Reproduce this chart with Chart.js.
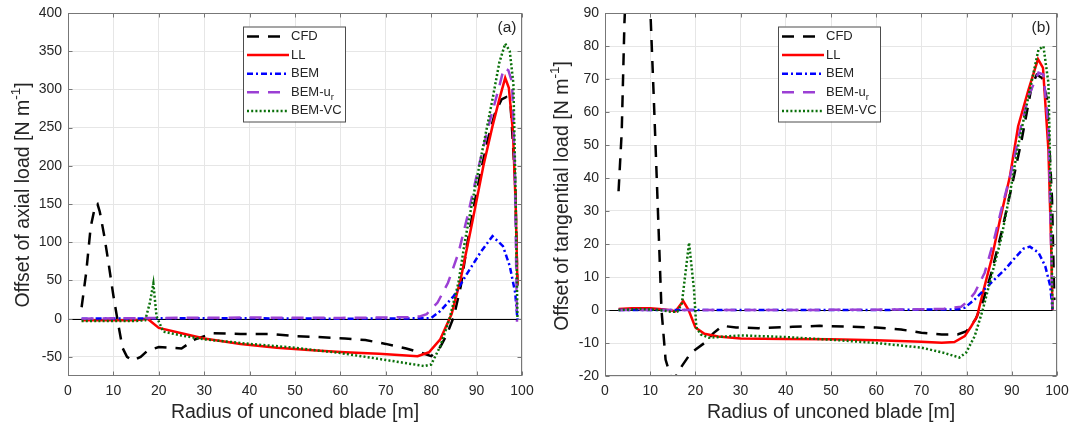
<!DOCTYPE html>
<html>
<head>
<meta charset="utf-8">
<script src="https://cdn.jsdelivr.net/npm/chart.js@4.4.1/dist/chart.umd.min.js"></script>
<style>
  html, body { margin: 0; padding: 0; background: #fff; }
  canvas { position: absolute; top: 0; }
</style>
</head>
<body>
<canvas id="axialChart" width="535" height="428" style="left:0"></canvas>
<canvas id="tangentialChart" width="535" height="428" style="left:535px"></canvas>
<script>
// x ticks shared by both panels
const radiusTicks = [0, 10, 20, 30, 40, 50, 60, 70, 80, 90, 100]
const axialTicks = [-50, 0, 50, 100, 150, 200, 250, 300, 350, 400]
const tangentialTicks = [-20, -10, 0, 10, 20, 30, 40, 50, 60, 70, 80, 90]

// (a) axial load offset
const axialCfdR = [3, 4, 5, 6, 6.5, 7, 8, 9, 10, 11, 12, 13, 14.3, 16, 17.5, 20, 22.5, 25, 28, 32, 38, 45, 50, 55, 61, 65.5, 70, 74.5, 77.5, 80, 82, 83.5, 85, 86.5, 88, 89.5, 91, 92.5, 94, 95.5, 96.5, 97.5, 98.5, 99]
const axialCfdV = [15, 60, 120, 148, 150, 140, 108, 70, 30, -5, -38, -50, -55, -50, -42, -37, -38, -39, -27, -19, -20, -20, -23, -24, -26, -28, -33, -39, -44, -49, -37, -20, 3, 42, 100, 150, 195, 235, 268, 287, 290, 278, 180, 40]
const axialLlR = [3, 6, 10, 14, 16, 17.5, 20, 25, 30, 38, 46, 53, 61, 68.5, 77, 79.5, 82, 84.5, 86.5, 89, 91.5, 93.5, 95, 96.3, 97.1, 98, 98.6, 99]
const axialLlV = [-2, -2, -2, -2, -1.5, 0, -12, -19, -26, -33, -38, -41, -44, -46, -49, -44, -27, 6, 52, 125, 200, 252, 287, 315, 302, 245, 150, 45]
const axialBemR = [3, 20, 40, 60, 79, 80, 82, 85, 88, 91, 93.5, 95.8, 97.3, 98.5, 99]
const axialBemV = [0, 0.5, 0.5, 0, 0.5, 1, 10, 30, 60, 88, 108, 95, 69, 34, -1]
const axialBemUrR = [3, 20, 40, 60, 75, 77.5, 79, 81.4, 83.7, 86, 88.2, 90.5, 92.8, 95, 96, 97, 97.8, 98.4, 98.9]
const axialBemUrV = [0, 1, 1.5, 1, 2, 3, 6, 21, 47, 86, 139, 200, 256, 304, 328, 325, 310, 200, -4]
const axialBemVcR = [3, 10, 15, 17, 18, 18.8, 19.5, 21, 25, 30, 40, 50, 60, 70, 78.5, 80, 82, 84, 86, 87.5, 89.7, 91.6, 93.5, 95, 96.3, 97.3, 98.1, 98.6, 99]
const axialBemVcV = [-3, -3, -3, -2, 20, 46, 3, -17, -22, -27, -33, -38, -45, -54, -62, -60, -36, -1, 47, 104, 173, 230, 287, 335, 360, 350, 308, 160, 0]

// (b) tangential load offset
const tangCfdR = [3, 3.7, 4.3, 5, 6, 7, 8, 9, 10, 10.8, 11.5, 12.5, 13.4, 14.7, 15.5, 17, 19, 22, 24, 26, 29, 34, 41.5, 47.5, 53, 60, 65.5, 70, 74.5, 78, 80, 82, 83.5, 85.5, 87.7, 90, 92.2, 94.4, 95.5, 96.7, 97.8, 98.9, 99.4]
const tangCfdV = [36, 54, 87, 110, 128, 135, 130, 115, 92, 64, 38, 0, -15, -21, -20.5, -17, -13, -10, -7, -4.8, -5.3, -5.5, -5.1, -4.8, -5, -5.3, -5.9, -6.9, -7.4, -7.4, -6.4, -2.8, 2.2, 11.3, 23.4, 37.5, 51.7, 67.8, 71.3, 70.3, 63.8, 33.5, 3]
const tangLlR = [3, 6, 10, 12, 14, 15.6, 17.3, 18.5, 20, 22, 25, 30, 40, 50, 60, 70, 74.5, 77.3, 79.6, 81, 82.3, 83.6, 85.5, 87.4, 89.6, 91.4, 93.7, 95.8, 96.9, 98.1, 98.7, 99]
const tangLlV = [0.3, 0.5, 0.5, 0.3, 0, -0.4, 2.7, 0, -5.3, -7.2, -8, -8.6, -8.8, -8.9, -9.2, -9.6, -9.9, -9.7, -7.9, -5, -2, 5.2, 15.3, 27.4, 40.6, 55.7, 66.8, 76, 73.4, 48.6, 20, 0]
const tangBemR = [3, 20, 40, 60, 78, 79.6, 81.8, 84, 86.2, 88.5, 90.7, 92.6, 94, 95.9, 97.4, 98.5, 99]
const tangBemV = [0, 0, 0, 0, 0.2, 0.7, 3.2, 6.3, 9.3, 12.3, 15.8, 18.6, 19.2, 17.4, 13.3, 7.3, 0.2]
const tangBemUrR = [3, 20, 40, 60, 70, 75, 78.8, 80.3, 81.8, 84, 85.9, 87.7, 90, 91.8, 93.7, 95.9, 97, 98.1, 99]
const tangBemUrV = [0, 0, 0, 0.1, 0.2, 0.4, 1, 2.7, 5.2, 11.3, 20.4, 30.5, 42.6, 54.2, 64.8, 71.9, 71.3, 55.7, 0]
const tangBemVcR = [3, 8, 12, 14.5, 16, 17, 18.6, 19.7, 20.2, 21.2, 23, 30, 40, 50, 60, 70, 75, 78.4, 79.9, 81.8, 83.6, 85.5, 87.7, 89.6, 91.4, 93.7, 95.9, 97, 98.1, 98.7, 99]
const tangBemVcV = [0, 0.3, 0, -0.5, -0.5, 2, 20.4, 6, -5.3, -7.4, -8.4, -7.7, -8.2, -9, -10, -11.4, -13, -14.4, -12.9, -7.9, 0.2, 10.3, 21.9, 35.5, 49.7, 64.8, 78.9, 79.9, 68.8, 30, 0]

const seriesStyles = [
  { label: "CFD", color: "#000000", dash: [12, 9] },
  { label: "LL", color: "#ff0000", dash: [] },
  { label: "BEM", color: "#0000ff", dash: [6, 3, 2, 3] },
  { label: "BEM-u", sub: "r", color: "#9b3fd4", dash: [12, 9] },
  { label: "BEM-VC", color: "#0a700a", dash: [2, 2.2] }
]

const FONT = "'Liberation Sans', Arial, Helvetica, sans-serif"
const TEXT = "#262626"
const FRAME = "#777777"

function points(r, v) {
  return r.map((x, i) => ({ x: x, y: v[i] }))
}

// MATLAB-like frame, zero line, legend, panel tag and axis titles
const matlabAxes = {
  id: "matlabAxes",
  beforeDatasetsDraw(chart) {
    const { ctx, chartArea: a } = chart
    const y0 = Math.round(chart.scales.y.getPixelForValue(0)) + 0.5
    ctx.save()
    ctx.strokeStyle = "#000"
    ctx.lineWidth = 1
    ctx.beginPath()
    ctx.moveTo(a.left, y0)
    ctx.lineTo(a.right, y0)
    ctx.stroke()
    ctx.restore()
  },
  afterDatasetsDraw(chart, args, opts) {
    const { ctx, chartArea: a, scales } = chart
    ctx.save()

    // frame + inward ticks
    ctx.strokeStyle = FRAME
    ctx.lineWidth = 1
    const L = Math.round(a.left) + 0.5, R = Math.round(a.right) - 0.5
    const T = Math.round(a.top) + 0.5, B = Math.round(a.bottom) - 0.5
    ctx.strokeRect(L, T, R - L, B - T)
    ctx.beginPath()
    scales.x.ticks.forEach(t => {
      const px = Math.round(scales.x.getPixelForValue(t.value)) + 0.5
      ctx.moveTo(px, B); ctx.lineTo(px, B - 4)
      ctx.moveTo(px, T); ctx.lineTo(px, T + 4)
    })
    scales.y.ticks.forEach(t => {
      const py = Math.round(scales.y.getPixelForValue(t.value)) + 0.5
      ctx.moveTo(L, py); ctx.lineTo(L + 4, py)
      ctx.moveTo(R, py); ctx.lineTo(R - 4, py)
    })
    ctx.stroke()

    // legend
    const lx = opts.legendX, ly = 26.5, lw = 102, lh = 95
    ctx.fillStyle = "#fff"
    ctx.fillRect(lx, ly, lw, lh)
    ctx.strokeStyle = "#4d4d4d"
    ctx.strokeRect(lx + 0.5, ly + 0.5, lw, lh)
    seriesStyles.forEach((s, i) => {
      const ry = ly + 10 + i * 18.6
      ctx.strokeStyle = s.color
      ctx.lineWidth = 2.5
      ctx.setLineDash(s.dash)
      ctx.beginPath()
      ctx.moveTo(lx + 4, ry)
      ctx.lineTo(lx + 46, ry)
      ctx.stroke()
      ctx.setLineDash([])
      ctx.fillStyle = TEXT
      ctx.font = "13px " + FONT
      ctx.textBaseline = "middle"
      ctx.textAlign = "left"
      ctx.fillText(s.label, lx + 48, ry)
      if (s.sub) {
        const w = ctx.measureText(s.label).width
        ctx.font = "9.5px " + FONT
        ctx.fillText(s.sub, lx + 48 + w, ry + 5)
      }
    })

    // panel tag
    ctx.fillStyle = TEXT
    ctx.font = "15.5px " + FONT
    ctx.textAlign = "center"
    ctx.textBaseline = "middle"
    ctx.fillText(opts.tag, opts.tagX, 28)

    // x title
    ctx.font = "19.5px " + FONT
    ctx.fillText("Radius of unconed blade [m]", (a.left + a.right) / 2, 413)

    // y title with superscript
    const main = opts.yTitle + " [N m"
    ctx.font = "19.5px " + FONT
    const w1 = ctx.measureText(main).width
    const w3 = ctx.measureText("]").width
    ctx.font = "13.5px " + FONT
    const w2 = ctx.measureText("-1").width
    const total = w1 + w2 + w3
    ctx.translate(opts.yTitleX, opts.yTitleY)
    ctx.rotate(-Math.PI / 2)
    ctx.textAlign = "left"
    ctx.font = "19.5px " + FONT
    ctx.fillText(main, -total / 2, 0)
    ctx.fillText("]", -total / 2 + w1 + w2, 0)
    ctx.font = "13.5px " + FONT
    ctx.fillText("-1", -total / 2 + w1, -8)

    ctx.restore()
  }
}

function buildChart(id, series, yMin, yMax, yTicks, axisWidth, opts) {
  const datasets = series.map((pair, i) => {
    const s = seriesStyles[i]
    return {
      label: s.label + (s.sub || ""),
      data: points(pair[0], pair[1]),
      borderColor: s.color,
      borderWidth: 2.5,
      borderDash: s.dash,
      borderCapStyle: "butt",
      pointRadius: 0,
      tension: 0,
      clip: 0,
      order: seriesStyles.length - i
    }
  })

  return new Chart(document.getElementById(id), {
    type: "line",
    data: { datasets: datasets },
    options: {
      responsive: false,
      animation: false,
      layout: { padding: { top: 13, right: 13, left: 0, bottom: 0 } },
      plugins: {
        legend: { display: false },
        tooltip: { enabled: false },
        matlabAxes: opts
      },
      scales: {
        x: {
          type: "linear",
          min: 0,
          max: 100,
          afterBuildTicks: s => { s.ticks = radiusTicks.map(v => ({ value: v })) },
          afterFit: s => { s.height = 52; s.paddingLeft = 0; s.paddingRight = 0 },
          ticks: { color: TEXT, font: { family: FONT, size: 14 }, padding: 7, maxRotation: 0 },
          grid: { color: "#e6e6e6", drawTicks: false },
          border: { display: false }
        },
        y: {
          type: "linear",
          min: yMin,
          max: yMax,
          afterBuildTicks: s => { s.ticks = yTicks.map(v => ({ value: v })) },
          afterFit: s => { s.width = axisWidth; s.paddingTop = 0; s.paddingBottom = 0 },
          ticks: { color: TEXT, font: { family: FONT, size: 14 }, padding: 6 },
          grid: { color: "#e6e6e6", drawTicks: false },
          border: { display: false }
        }
      }
    },
    plugins: [matlabAxes]
  })
}

buildChart("axialChart", [
  [axialCfdR, axialCfdV],
  [axialLlR, axialLlV],
  [axialBemR, axialBemV],
  [axialBemUrR, axialBemUrV],
  [axialBemVcR, axialBemVcV]
], -75, 400, axialTicks, 68, {
  yTitle: "Offset of axial load", yTitleX: 24, yTitleY: 195,
  legendX: 243, tag: "(a)", tagX: 507
})

buildChart("tangentialChart", [
  [tangCfdR, tangCfdV],
  [tangLlR, tangLlV],
  [tangBemR, tangBemV],
  [tangBemUrR, tangBemUrV],
  [tangBemVcR, tangBemVcV]
], -20, 90, tangentialTicks, 70, {
  yTitle: "Offset of tangential load", yTitleX: 28, yTitleY: 196,
  legendX: 243, tag: "(b)", tagX: 506
})
</script>
</body>
</html>
